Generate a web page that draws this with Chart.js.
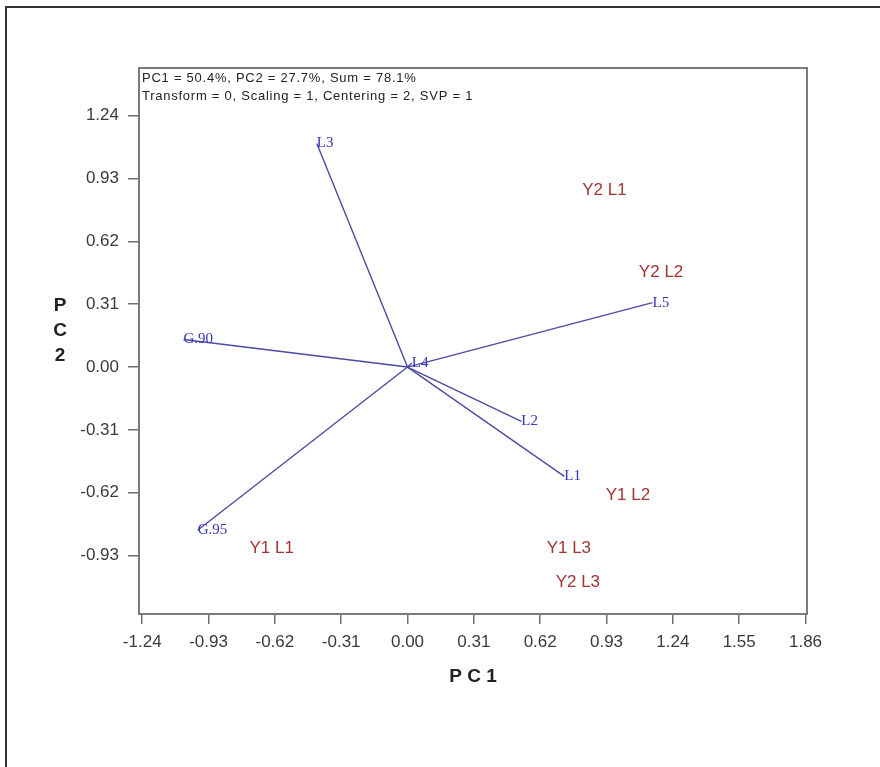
<!DOCTYPE html>
<html>
<head>
<meta charset="utf-8">
<script src="https://cdn.jsdelivr.net/npm/chart.js@4/dist/chart.umd.min.js"></script>
<style>
    body { margin: 0; background: #fff; }
    #frame { position: absolute; left: 5px; top: 6px; width: 900px; height: 800px; border-top: 2px solid #333; border-left: 2px solid #333; }
    #biplot { position: absolute; left: 0; top: 0; }
</style>
</head>
<body>
<div id="frame"></div>
<canvas id="biplot" width="880" height="767"></canvas>
<script>
// tester vectors (blue, drawn from origin)
const testerNames = ['L1', 'L2', 'L3', 'L4', 'L5', 'G.90', 'G.95'];
const testerX = [0.733, 0.532, -0.424, 0.02, 1.145, -1.047, -0.981];
const testerY = [-0.539, -0.268, 1.103, 0.02, 0.318, 0.136, -0.805];

// entries (red text only)
const entryNames = ['Y1 L1', 'Y1 L2', 'Y1 L3', 'Y2 L1', 'Y2 L2', 'Y2 L3'];
const entryX = [-0.635, 1.030, 0.754, 0.920, 1.185, 0.796];
const entryY = [-0.894, -0.633, -0.894, 0.871, 0.467, -1.062];

const xTicks = [-1.24, -0.93, -0.62, -0.31, 0.00, 0.31, 0.62, 0.93, 1.24, 1.55, 1.86];
const yTicks = [-0.93, -0.62, -0.31, 0.00, 0.31, 0.62, 0.93, 1.24];
const xMin = -1.255, xMax = 1.867;
const yMin = -1.218, yMax = 1.475;

const infoLines = ['PC1 = 50.4%, PC2 = 27.7%, Sum = 78.1%', 'Transform = 0, Scaling = 1, Centering = 2, SVP = 1'];

const lineColor = '#4b4ba3';
const testerColor = '#3434b8';
const entryColor = '#a03535';

const datasets = testerNames.map((name, i) => ({
    label: name,
    data: [{ x: 0, y: 0 }, { x: testerX[i], y: testerY[i] }],
    showLine: true,
    borderColor: lineColor,
    borderWidth: 1.4,
    pointRadius: 0
}));

const labelPlugin = {
    id: 'biplotLabels',
    afterDatasetsDraw(chart) {
        const ctx = chart.ctx;
        const xs = chart.scales.x, ys = chart.scales.y;
        ctx.save();
        ctx.textBaseline = 'middle';

        ctx.font = '15px "Liberation Serif", serif';
        ctx.fillStyle = testerColor;
        ctx.textAlign = 'left';
        testerNames.forEach((name, i) => {
            ctx.fillText(name, xs.getPixelForValue(testerX[i]), ys.getPixelForValue(testerY[i]));
        });

        ctx.font = '17px "Liberation Sans", Arial, sans-serif';
        ctx.fillStyle = entryColor;
        ctx.textAlign = 'center';
        entryNames.forEach((name, i) => {
            ctx.fillText(name, xs.getPixelForValue(entryX[i]), ys.getPixelForValue(entryY[i]));
        });
        ctx.restore();
    },
    afterDraw(chart) {
        const ctx = chart.ctx;
        const a = chart.chartArea;
        ctx.save();
        ctx.strokeStyle = '#7a7a7a';
        ctx.lineWidth = 2;
        ctx.strokeRect(a.left, a.top, a.right - a.left, a.bottom - a.top);

        ctx.fillStyle = '#222';
        ctx.font = '13px "Liberation Sans", Arial, sans-serif';
        ctx.letterSpacing = '0.75px';
        ctx.textAlign = 'left';
        ctx.textBaseline = 'middle';
        ctx.fillText(infoLines[0], a.left + 3, a.top + 10);
        ctx.fillText(infoLines[1], a.left + 3, a.top + 28);
        ctx.letterSpacing = '0px';

        ctx.font = 'bold 19px "Liberation Sans", Arial, sans-serif';
        ctx.fillStyle = '#222';
        ctx.textAlign = 'center';
        ctx.fillText('P C 1', (a.left + a.right) / 2, 677);
        ['P', 'C', '2'].forEach((ch, i) => ctx.fillText(ch, 60, 306 + i * 25));
        ctx.restore();
    }
};

const tickFont = { family: '"Liberation Sans", Arial, sans-serif', size: 17 };

new Chart(document.getElementById('biplot').getContext('2d'), {
    type: 'scatter',
    data: { datasets: datasets },
    options: {
        responsive: false,
        animation: false,
        layout: { padding: { left: 79, top: 68, right: 73, bottom: 103 } },
        plugins: { legend: { display: false }, tooltip: { enabled: false } },
        scales: {
            x: {
                type: 'linear',
                min: xMin,
                max: xMax,
                afterBuildTicks: axis => { axis.ticks = xTicks.map(v => ({ value: v })); },
                afterFit: axis => { axis.height = 50; },
                border: { display: false },
                grid: { drawOnChartArea: false, drawTicks: true, tickLength: 10, color: '#6e6e6e', lineWidth: 1.5 },
                ticks: { callback: v => v.toFixed(2), font: tickFont, color: '#3a3a3a', padding: 8, maxRotation: 0, autoSkip: false }
            },
            y: {
                type: 'linear',
                min: yMin,
                max: yMax,
                afterBuildTicks: axis => { axis.ticks = yTicks.map(v => ({ value: v })); },
                afterFit: axis => { axis.width = 60; },
                border: { display: false },
                grid: { drawOnChartArea: false, drawTicks: true, tickLength: 11, color: '#6e6e6e', lineWidth: 1.5 },
                ticks: { callback: v => v.toFixed(2), font: tickFont, color: '#3a3a3a', padding: 9, autoSkip: false }
            }
        }
    },
    plugins: [labelPlugin]
});
</script>
</body>
</html>
